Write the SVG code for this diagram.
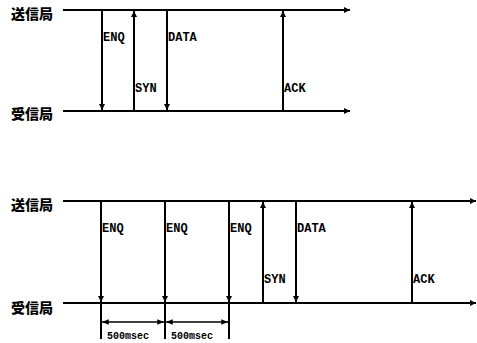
<svg xmlns="http://www.w3.org/2000/svg" width="477" height="343" viewBox="0 0 477 343">
<style>
.ln{stroke:#000;stroke-width:2;fill:none}
.th{stroke:#000;stroke-width:1.5;fill:none}
.lb{font-family:"Liberation Mono",monospace;font-weight:bold;font-size:12px;fill:#000}
.sm{font-family:"Liberation Mono",monospace;font-weight:bold;font-size:10px;fill:#000}
.cj{font-family:"Noto Sans CJK JP","Noto Sans CJK SC",sans-serif;font-weight:900;font-size:14px;fill:#000}
</style>
<defs>
<marker id="ah" viewBox="0 0 10 10" refX="10" refY="5" markerWidth="3.2" markerHeight="3.2" orient="auto" markerUnits="strokeWidth">
<path d="M0,0 L10,5 L0,10 z" fill="#000"/>
</marker>
<marker id="ds" viewBox="0 0 10 10" refX="10" refY="5" markerWidth="4.5" markerHeight="4.5" orient="auto-start-reverse" markerUnits="strokeWidth">
<path d="M0,1 L10,5 L0,9 z" fill="#000"/>
</marker>
</defs>
<g id="top-sender"><text class="cj" x="11" y="19">送信局</text><line class="ln" x1="63" y1="10" x2="350" y2="10" marker-end="url(#ah)"/></g>
<g id="top-receiver"><text class="cj" x="11" y="119">受信局</text><line class="ln" x1="63" y1="111" x2="350" y2="111" marker-end="url(#ah)"/></g>
<g id="bot-sender"><text class="cj" x="11" y="210">送信局</text><line class="ln" x1="63" y1="201" x2="476" y2="201" marker-end="url(#ah)"/></g>
<g id="bot-receiver"><text class="cj" x="11" y="313">受信局</text><line class="ln" x1="63" y1="303" x2="476" y2="303" marker-end="url(#ah)"/></g>
<g id="connectors">
<line class="ln" x1="102" y1="10" x2="102" y2="110" marker-end="url(#ah)"/>
<line class="ln" x1="134" y1="111" x2="134" y2="11" marker-end="url(#ah)"/>
<line class="ln" x1="167" y1="10" x2="167" y2="110" marker-end="url(#ah)"/>
<line class="ln" x1="283" y1="111" x2="283" y2="11" marker-end="url(#ah)"/>
<line class="ln" x1="101" y1="201" x2="101" y2="302" marker-end="url(#ah)"/>
<line class="ln" x1="165" y1="201" x2="165" y2="302" marker-end="url(#ah)"/>
<line class="ln" x1="229" y1="201" x2="229" y2="302" marker-end="url(#ah)"/>
<line class="ln" x1="263" y1="303" x2="263" y2="202" marker-end="url(#ah)"/>
<line class="ln" x1="296" y1="201" x2="296" y2="302" marker-end="url(#ah)"/>
<line class="ln" x1="412" y1="303" x2="412" y2="202" marker-end="url(#ah)"/>
<line class="ln" x1="101" y1="303" x2="101" y2="339"/>
<line class="ln" x1="165" y1="303" x2="165" y2="339"/>
<line class="ln" x1="229" y1="303" x2="229" y2="339"/>
<line class="th" x1="102" y1="322" x2="164" y2="322" marker-start="url(#ds)" marker-end="url(#ds)"/>
<line class="th" x1="166" y1="322" x2="228" y2="322" marker-start="url(#ds)" marker-end="url(#ds)"/>
</g>
<g id="labels">
<text class="lb" x="103" y="41">ENQ</text>
<text class="lb" x="135" y="92">SYN</text>
<text class="lb" x="168" y="41">DATA</text>
<text class="lb" x="284" y="92">ACK</text>
<text class="lb" x="102" y="232">ENQ</text>
<text class="lb" x="166" y="232">ENQ</text>
<text class="lb" x="230" y="232">ENQ</text>
<text class="lb" x="264" y="283">SYN</text>
<text class="lb" x="297" y="232">DATA</text>
<text class="lb" x="413" y="283">ACK</text>
<text class="sm" x="107" y="339">500msec</text>
<text class="sm" x="171" y="339">500msec</text>
</g>
</svg>
